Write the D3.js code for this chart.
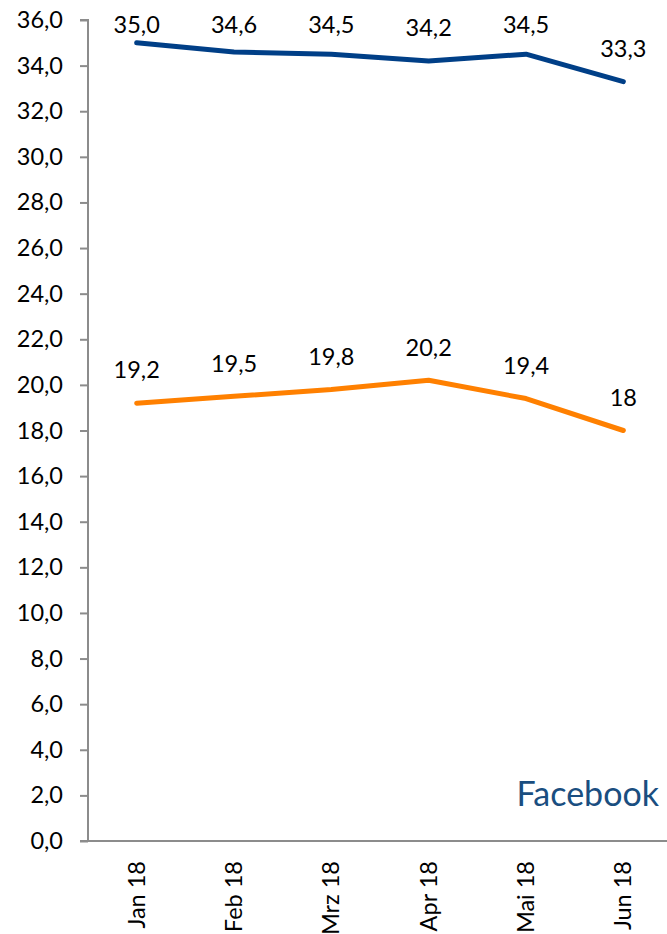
<!DOCTYPE html>
<html>
<head>
<meta charset="utf-8">
<script src="https://cdn.jsdelivr.net/npm/d3@7"></script>
<style>
  html, body { margin: 0; padding: 0; background: #fff; }
  svg { display: block; font-family: Lato, "Open Sans", sans-serif; }
</style>
</head>
<body>
<svg id="chart" width="667" height="934"></svg>
<script>
// Monthly values, Jan–Jun 2018
const months = ["Jan 18", "Feb 18", "Mrz 18", "Apr 18", "Mai 18", "Jun 18"];
const blueSeries = [35.0, 34.6, 34.5, 34.2, 34.5, 33.3];
const orangeSeries = [19.2, 19.5, 19.8, 20.2, 19.4, 18];
const yTicks = [0, 2, 4, 6, 8, 10, 12, 14, 16, 18, 20, 22, 24, 26, 28, 30, 32, 34, 36];
const title = "Facebook";

const svg = d3.select("#chart");
const plot = { left: 88, right: 672, top: 20, bottom: 841 };
const fontSize = 23.5;

const x = d3.scaleBand().domain(months).range([plot.left, plot.right]);
const y = d3.scaleLinear().domain([0, 36]).range([plot.bottom, plot.top]);

const comma1 = v => d3.format(".1f")(v).replace(".", ",");
const general = v => String(v).replace(".", ",");

// Y axis
const yAxis = svg.append("g")
  .attr("transform", `translate(${plot.left},0)`)
  .call(d3.axisLeft(y).tickValues(yTicks).tickFormat(comma1).tickSize(8).tickPadding(17));
yAxis.select(".domain").attr("stroke", "#8c8c8c").attr("stroke-width", 2).attr("d", `M-8,${y(36)}H0V${y(0)}`);
yAxis.selectAll(".tick line").attr("stroke", "#8c8c8c").attr("stroke-width", 2);
yAxis.selectAll(".tick text").attr("font-size", fontSize).attr("fill", "#000").attr("font-family", "Lato, sans-serif");

// X axis line
svg.append("line")
  .attr("x1", plot.left - 8).attr("x2", 667)
  .attr("y1", y(0)).attr("y2", y(0))
  .attr("stroke", "#8c8c8c").attr("stroke-width", 2);

// X labels, rotated
svg.append("g").selectAll("text").data(months).join("text")
  .attr("transform", d => `translate(${x(d) + x.bandwidth() / 2 + 8},861) rotate(-90)`)
  .attr("text-anchor", "end")
  .attr("font-size", fontSize)
  .attr("fill", "#000")
  .text(d => d);

const line = d3.line()
  .x((d, i) => x(months[i]) + x.bandwidth() / 2)
  .y(d => y(d));

function drawSeries(values, color, fmt) {
  svg.append("path")
    .datum(values)
    .attr("d", line)
    .attr("fill", "none")
    .attr("stroke", color)
    .attr("stroke-width", 5)
    .attr("stroke-linejoin", "round")
    .attr("stroke-linecap", "round");
  svg.append("g").selectAll("text").data(values).join("text")
    .attr("x", (d, i) => x(months[i]) + x.bandwidth() / 2)
    .attr("y", d => Math.max(y(d) - 33, 25))
    .attr("dy", "0.35em")
    .attr("text-anchor", "middle")
    .attr("font-size", fontSize)
    .attr("fill", "#000")
    .text(fmt);
}

drawSeries(blueSeries, "#003f87", comma1);
drawSeries(orangeSeries, "#ff8000", general);

svg.append("text")
  .attr("x", 659).attr("y", 806)
  .attr("text-anchor", "end")
  .attr("font-size", 34)
  .attr("fill", "#1a4e80")
  .text(title);
</script>
</body>
</html>
